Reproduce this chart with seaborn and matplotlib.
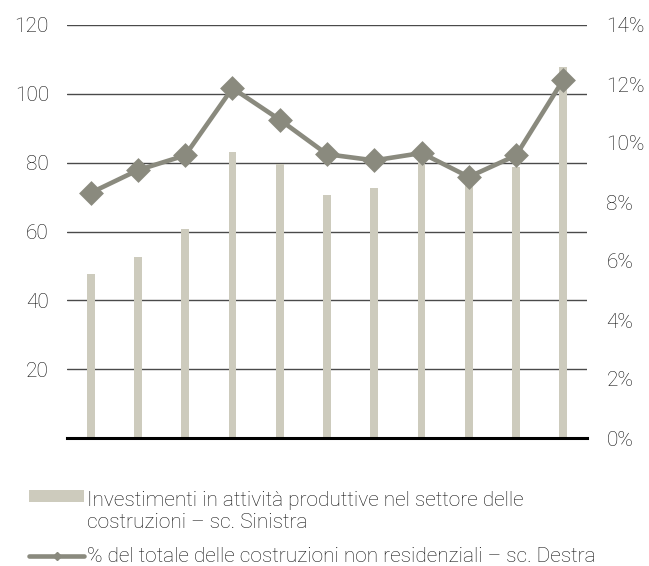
import matplotlib
matplotlib.use("Agg")
import matplotlib.pyplot as plt
import seaborn as sns
import pandas as pd
from matplotlib.lines import Line2D
from matplotlib.patches import Patch, Rectangle
from matplotlib.legend_handler import HandlerPatch

categories = ["2005", "2006", "2007", "2008", "2009", "2010", "2011", "2012", "2013", "2014", "2015"]
investimenti = [47.6, 52.5, 60.6, 83.1, 79.6, 70.7, 72.5, 81.0, 76.0, 78.8, 107.9]
quota_pct = [8.31, 9.08, 9.58, 11.86, 10.79, 9.62, 9.41, 9.66, 8.85, 9.58, 12.15]
left_ticks = [20, 40, 60, 80, 100, 120]
right_ticks = [0, 2, 4, 6, 8, 10, 12, 14]

label_bar = "Investimenti in attività produttive nel settore delle\ncostruzioni – sc. Sinistra"
label_line = "% del totale delle costruzioni non residenziali – sc. Destra"

bar_color = "#CDCBBD"
line_color = "#8A8A7E"
text_color = "#111111"

sns.set_theme(style="white")
plt.rcParams["font.family"] = ["Roboto", "DejaVu Sans"]
plt.rcParams["font.weight"] = "light"

df = pd.DataFrame({"cat": categories, "inv": investimenti, "pct": quota_pct})

fig = plt.figure(figsize=(6.49, 5.66), dpi=100)
ax = fig.add_axes([67 / 649, 1 - 438 / 566, 520 / 649, (438 - 25) / 566])

sns.barplot(data=df, x="cat", y="inv", color=bar_color, width=0.165, ax=ax,
            saturation=1, linewidth=0, zorder=2)
ax.set_ylim(0, 120)
ax.set_yticks(left_ticks)
ax.set_xlim(-0.5, len(categories) - 0.5)
ax.set_axisbelow(True)
ax.yaxis.grid(True, color="#4a4a4a", linewidth=1.0, zorder=0)
ax.xaxis.grid(False)
ax.set_xlabel("")
ax.set_ylabel("")
ax.set_xticks([])
for s in ["left", "right", "top"]:
    ax.spines[s].set_visible(False)
ax.spines["bottom"].set_color("black")
ax.spines["bottom"].set_linewidth(2.2)
ax.spines["bottom"].set_zorder(5)
ax.tick_params(axis="y", length=0, pad=13, labelsize=15, labelcolor=text_color)

ax2 = ax.twinx()
sns.pointplot(data=df, x="cat", y="pct", color=line_color, markers="D",
              linewidth=3.3, markersize=10, ax=ax2)
ax2.set_ylim(0, 14)
ax2.set_xlim(-0.5, len(categories) - 0.5)
ax2.set_yticks(right_ticks)
ax2.set_yticklabels([f"{t}%" for t in right_ticks])
ax2.set_xlabel("")
ax2.set_ylabel("")
ax2.set_xticks([])
ax2.grid(False)
for s in ax2.spines.values():
    s.set_visible(False)
ax2.tick_params(axis="y", length=0, pad=14, labelsize=15, labelcolor=text_color)


def raised_patch(legend, orig_handle, xdescent, ydescent, width, height, fontsize):
    return Rectangle((-xdescent, -ydescent + 0.75 * fontsize), width, height)


handles = [
    Patch(facecolor=bar_color, edgecolor="none"),
    Line2D([0], [0], color=line_color, linewidth=3.3, marker="D", markersize=4),
]
fig.legend(handles, [label_bar, label_line], loc="upper left",
           bbox_to_anchor=(0.032, 0.1475), frameon=False, fontsize=15,
           handlelength=2.65, handleheight=0.5, handletextpad=0.12,
           labelspacing=0.75, labelcolor=text_color, borderaxespad=0,
           handler_map={Patch: HandlerPatch(patch_func=raised_patch)})

fig.savefig("out.png", dpi=100)
